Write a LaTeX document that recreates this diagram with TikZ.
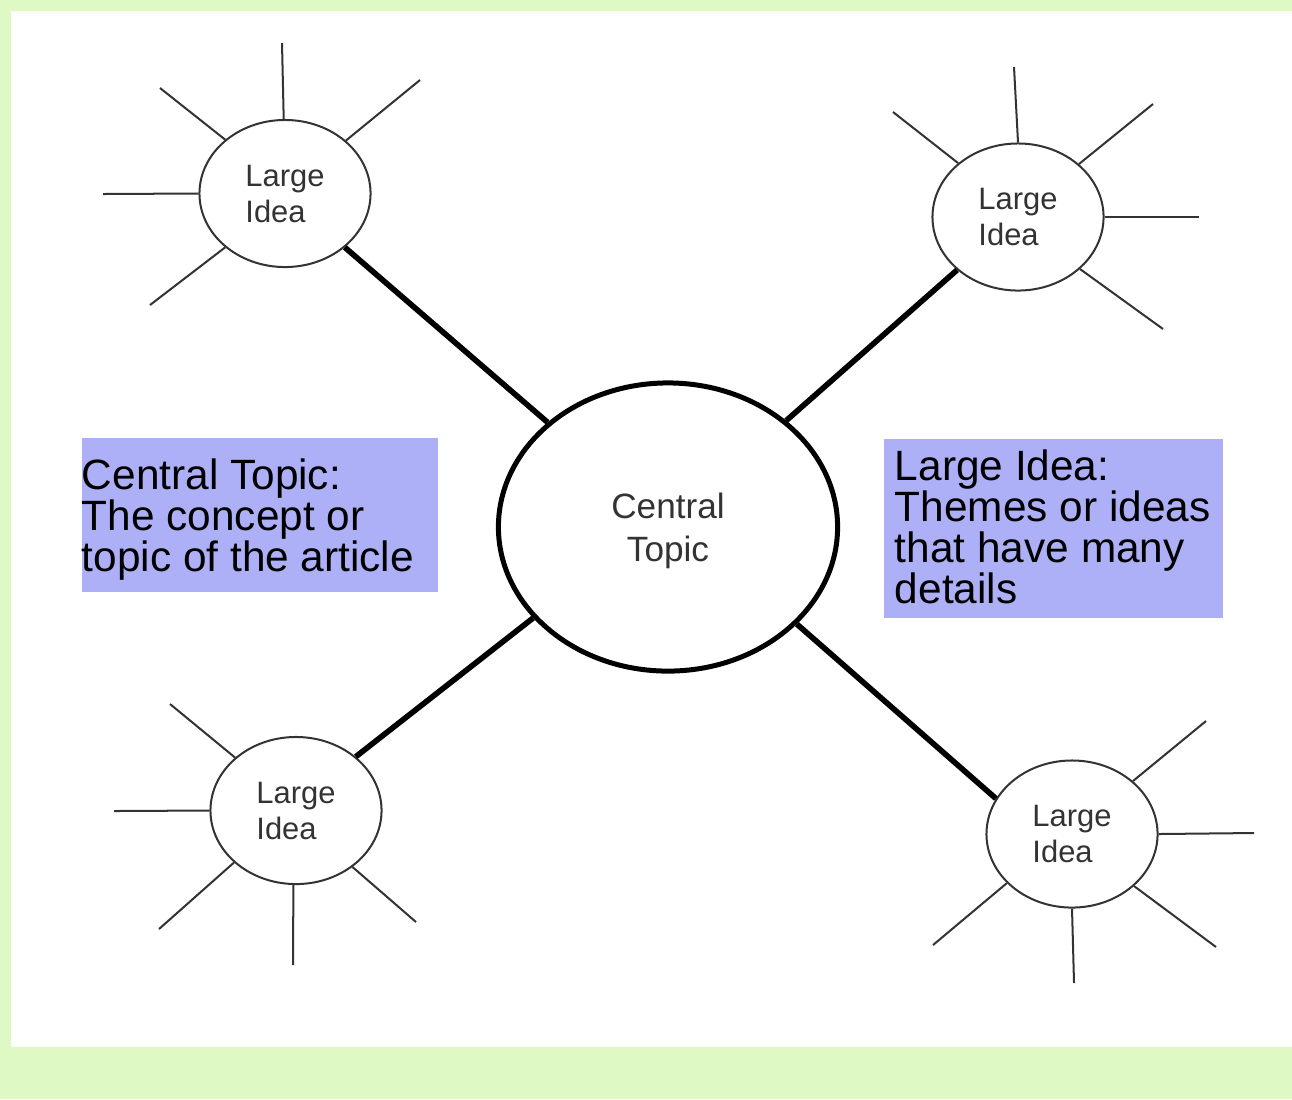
\documentclass[tikz,border=0pt]{standalone}
\usepackage{fontspec}
\setmainfont{Liberation Sans}
\usetikzlibrary{shapes.geometric}
\definecolor{pagegreen}{RGB}{223,249,197}
\definecolor{notefill}{RGB}{173,176,246}
\definecolor{inkgray}{RGB}{51,51,51}

\begin{document}
\begin{tikzpicture}[x=0.01cm,y=-0.01cm,
  idea/.style={ellipse, draw=inkgray, line width=0.57pt,
    minimum width=1.71cm, minimum height=1.47cm, inner sep=0pt,
    align=left, text=inkgray, text depth=0pt,
    font=\fontsize{8.8}{10.25}\selectfont},
  topic/.style={ellipse, draw=black, line width=1.42pt,
    minimum width=3.39cm, minimum height=2.88cm, inner sep=0pt,
    align=center, text=inkgray, text depth=0pt,
    font=\fontsize{10}{12.2}\selectfont},
  spoke/.style={draw=inkgray, line width=0.57pt},
  link/.style={draw=black, line width=1.6pt},
  note/.style={fill=notefill, inner sep=0pt},
  notetext/.style={inner sep=0pt, align=left, anchor=north west,
    font=\fontsize{12.05}{11.66}\selectfont}
]
% page and white sheet
\fill[pagegreen] (0,0) rectangle (1292,1099);
\fill[white] (11,11) rectangle (1292,1047);

% topic and the four ideas
\node[topic] (c)  at (668,527) {Central\\Topic};
\node[idea]  (ul) at (285,193.5) {Large\\Idea};
\node[idea]  (ur) at (1018,217)  {Large\\Idea};
\node[idea]  (ll) at (296,810.5) {Large\\Idea};
\node[idea]  (lr) at (1072,834)  {Large\\Idea};

% heavy links from the topic to each idea
\draw[link] (c.139) -- (ul.-42);
\draw[link] (c.42)  -- (ur.221);
\draw[link] (c.214) -- (ll.42);
\draw[link] (c.-37) -- (lr.155);

% detail spokes around each idea
\foreach \a/\x/\y [count=\i] in {91/282/43, 41/420/80, 138/160/88, 180/103/194, 222/150/305}{
  \coordinate (ul-\i) at (\x,\y);
  \draw[spoke] (ul.\a) -- (ul-\i);
}
\foreach \a/\x/\y [count=\i] in {90/1014/67, 41/1153/104, 0/1199/217, -40/1163/329, 138/893/112}{
  \coordinate (ur-\i) at (\x,\y);
  \draw[spoke] (ur.\a) -- (ur-\i);
}
\foreach \a/\x/\y [count=\i] in {139/170/704, 180/114/811, 220/159/929, 268/293/965, -45/416/922}{
  \coordinate (ll-\i) at (\x,\y);
  \draw[spoke] (ll.\a) -- (ll-\i);
}
\foreach \a/\x/\y [count=\i] in {41/1206/721, 0/1254/833, -40/1216/947, 270/1074/983, 217/933/945}{
  \coordinate (lr-\i) at (\x,\y);
  \draw[spoke] (lr.\a) -- (lr-\i);
}

% explanatory notes
\node[note, minimum width=3.56cm, minimum height=1.54cm] (ctnote) at (260,515) {};
\node[notetext] (cttext) at ([yshift=-0.21cm]ctnote.north west)
  {Central Topic:\\The concept or\\topic of the article};
\node[note, minimum width=3.39cm, minimum height=1.79cm] (linote) at (1053.5,528.5) {};
\node[notetext] (litext) at ([xshift=0.11cm,yshift=-0.11cm]linote.north west)
  {Large Idea:\\Themes or ideas\\that have many\\details};
\end{tikzpicture}
\end{document}
